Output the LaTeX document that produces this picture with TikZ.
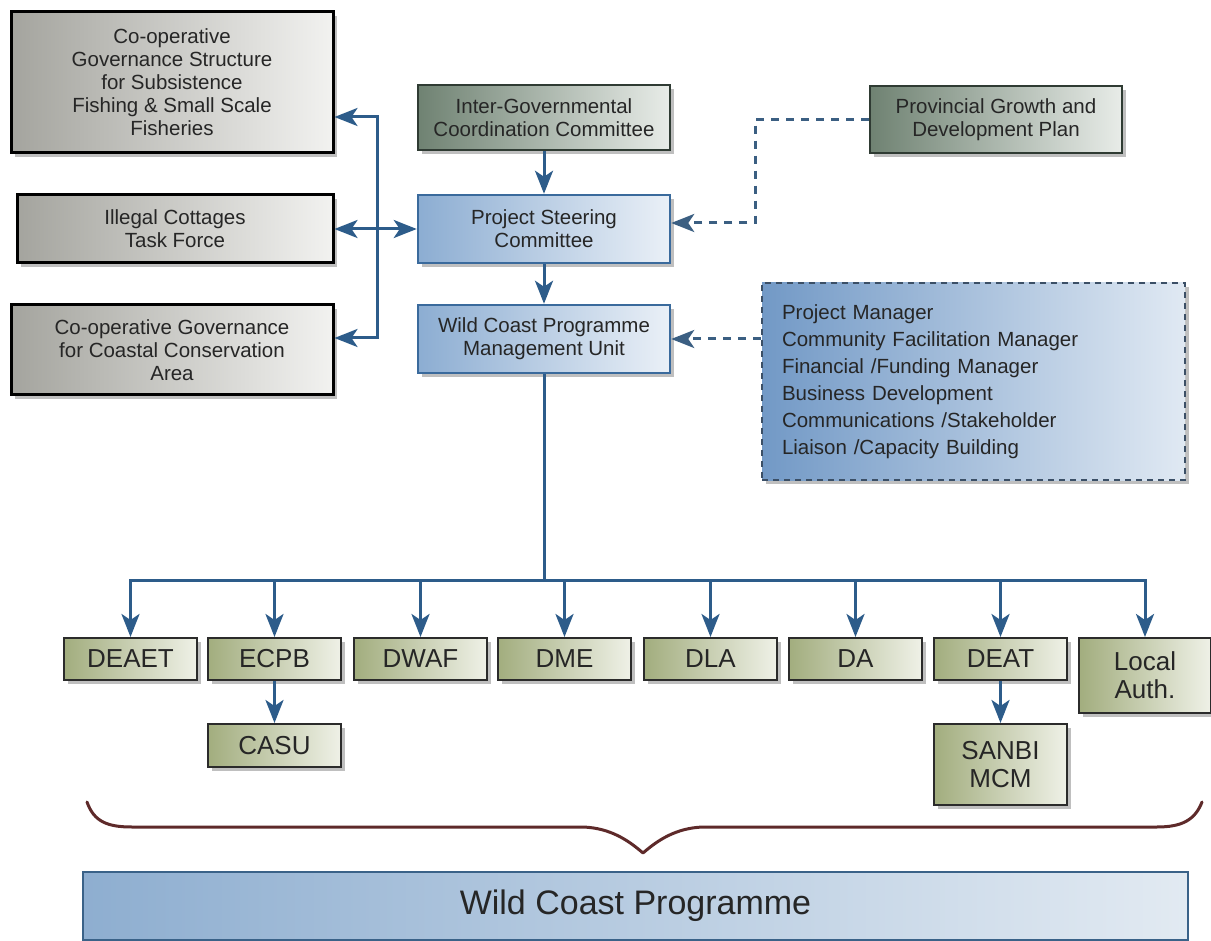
\documentclass[tikz,border=0pt]{standalone}
\usepackage{fontspec}
\setmainfont{Liberation Sans}
\usetikzlibrary{arrows.meta,shadows,calc}
\definecolor{txt}{HTML}{262626}
\definecolor{arrowblue}{HTML}{2D5C8A}
\definecolor{dashblue}{HTML}{3B5F82}
\definecolor{graydark}{HTML}{A4A49E}
\definecolor{graylight}{HTML}{F2F2F0}
\definecolor{sagedark}{HTML}{6F8272}
\definecolor{sagelight}{HTML}{E8ECE8}
\definecolor{sageline}{HTML}{2F3B33}
\definecolor{bluedark}{HTML}{8CADD2}
\definecolor{bluelight}{HTML}{EAF0F7}
\definecolor{blueline}{HTML}{3A6A9C}
\definecolor{listdark}{HTML}{7299C6}
\definecolor{listlight}{HTML}{E0E9F3}
\definecolor{listline}{HTML}{3B4F66}
\definecolor{olivedark}{HTML}{A2AD7E}
\definecolor{olivelight}{HTML}{EFF1E7}
\definecolor{oliveline}{HTML}{2B2B2B}
\definecolor{bardark}{HTML}{8EAED0}
\definecolor{barlight}{HTML}{E2EAF2}
\definecolor{barline}{HTML}{3A6288}
\definecolor{bracecol}{HTML}{5E2A2A}
\tikzset{
  shad/.style={drop shadow={shadow xshift=4pt,shadow yshift=-4pt,opacity=0.45,fill=black!55}},
  basebox/.style={rectangle, inner sep=0pt, align=center, text=txt, shad},
  graybox/.style={basebox, draw=black, line width=3pt, left color=graydark, right color=graylight,
    font=\fontsize{20.5}{23}\selectfont},
  sagebox/.style={basebox, draw=sageline, line width=2.5pt, left color=sagedark, right color=sagelight,
    font=\fontsize{20.5}{23}\selectfont},
  bluebox/.style={basebox, draw=blueline, line width=2.5pt, left color=bluedark, right color=bluelight,
    font=\fontsize{20.5}{23}\selectfont},
  listbox/.style={basebox, draw=listline, line width=2.5pt, dash pattern=on 6pt off 5pt,
    left color=listdark, right color=listlight, align=left, text width=383pt, inner xsep=20pt,
    font=\fontsize{20.5}{27}\selectfont},
  olivebox/.style={basebox, draw=oliveline, line width=2pt, left color=olivedark, right color=olivelight,
    minimum width=133pt, font=\fontsize{26}{28}\selectfont},
  barbox/.style={rectangle, inner sep=0pt, draw=barline, line width=2.5pt, left color=bardark,
    right color=barlight, text=txt, font=\fontsize{34}{38}\selectfont},
  conn/.style={draw=arrowblue, line width=3pt},
  arr/.style={conn, -{Stealth[length=23pt,width=18pt,inset=6pt]}},
  dasharr/.style={draw=dashblue, line width=3pt, dash pattern=on 8pt off 7pt,
    -{Stealth[length=23pt,width=18pt,inset=6pt]}},
}
\begin{document}
\begin{tikzpicture}[x=1pt,y=-1pt]
\useasboundingbox (0,0) rectangle (1211,941);
\fill[white] (0,0) rectangle (1211,941);

% left boxes
\node[graybox, minimum width=322pt, minimum height=141pt] (coopfish) at (172,82.5)
  {Co-operative\\Governance Structure\\for Subsistence\\Fishing \& Small Scale\\Fisheries};
\node[graybox, minimum width=316pt, minimum height=68pt] (illegal) at (175,229)
  {Illegal Cottages\\Task Force};
\node[graybox, minimum width=322pt, minimum height=90pt] (coopcoast) at (172,350)
  {Co-operative Governance\\for Coastal Conservation\\Area};

% centre column
\node[sagebox, minimum width=252pt, minimum height=65pt] (igcc) at (544,117.5)
  {Inter-Governmental\\Coordination Committee};
\node[bluebox, minimum width=252pt, minimum height=68pt] (psc) at (544,229)
  {Project Steering\\Committee};
\node[bluebox, minimum width=252pt, minimum height=68pt] (wcpmu) at (544,339)
  {Wild Coast Programme\\Management Unit};

% right boxes
\node[sagebox, minimum width=252pt, minimum height=67pt] (prov) at (996,119.5)
  {Provincial Growth and\\Development Plan};
\node[listbox, minimum width=423pt, minimum height=197pt] (staff) at (973.5,381.5)
  {Project Manager\\Community Facilitation Manager\\Financial /Funding Manager\\Business Development\\Communications /Stakeholder\\Liaison /Capacity Building};

% bottom row
\foreach \n/\x/\t in {deaet/130.5/DEAET, ecpb/274.5/ECPB, dwaf/420.5/DWAF, dme/564.5/DME,
                      dla/710.5/DLA, da/855.5/DA, deat/1000.5/DEAT}
  \node[olivebox, minimum height=42pt] (\n) at (\x,659) {\t};
\node[olivebox, minimum width=132pt, minimum height=75pt] (local) at (1145,675.5) {Local\\Auth.};
\node[olivebox, minimum height=43pt] (casu) at (274.5,745.5) {CASU};
\node[olivebox, minimum height=81pt] (sanbi) at (1000.5,764.5) {SANBI\\MCM};

% programme bar
\node[barbox, minimum width=1105pt, minimum height=68pt] (wcp) at (635.5,906) {Wild Coast Programme};

% left connectors
\coordinate (j1) at (377,117);
\coordinate (j3) at (377,338);
\draw[conn, {Stealth[length=23pt,width=18pt,inset=6pt]}-{Stealth[length=23pt,width=18pt,inset=6pt]}, line join=miter]
  (coopfish.east |- j1) -- (j1) -- (j3) -- (coopcoast.east |- j3);
\draw[conn, {Stealth[length=23pt,width=18pt,inset=6pt]}-{Stealth[length=23pt,width=18pt,inset=6pt]}]
  (illegal.east) -- (psc.west);

% centre arrows
\draw[arr] (igcc.south) -- (psc.north);
\draw[arr] (psc.south) -- (wcpmu.north);

% dashed connectors
\coordinate (d2) at (755,223);
\draw[dasharr, line join=miter] (prov.west) -| (d2) -- (psc.east |- d2);
\draw[dasharr] (staff.west |- wcpmu.east) -- (wcpmu.east);

% tree
\coordinate (t) at (544,580);
\draw[conn] (wcpmu.south) -- (t);
\draw[conn, line cap=rect] (deaet.north |- t) -- (local.north |- t);
\foreach \n in {deaet,ecpb,dwaf,dme,dla,da,deat,local}
  \draw[arr] (\n.north |- t) -- (\n.north);
\draw[arr] (ecpb.south) -- (casu.north);
\draw[arr] (deat.south) -- (sanbi.north);

% brace
\draw[bracecol, line width=3pt, line cap=round, line join=round]
  (87,802) .. controls (94,822) and (108,827) .. (132,827)
  -- (583,827) .. controls (610,828) and (628,840) .. (643,853)
  .. controls (658,840) and (676,828) .. (703,827)
  -- (1157,827) .. controls (1182,827) and (1195,820) .. (1202,802);
\end{tikzpicture}
\end{document}
